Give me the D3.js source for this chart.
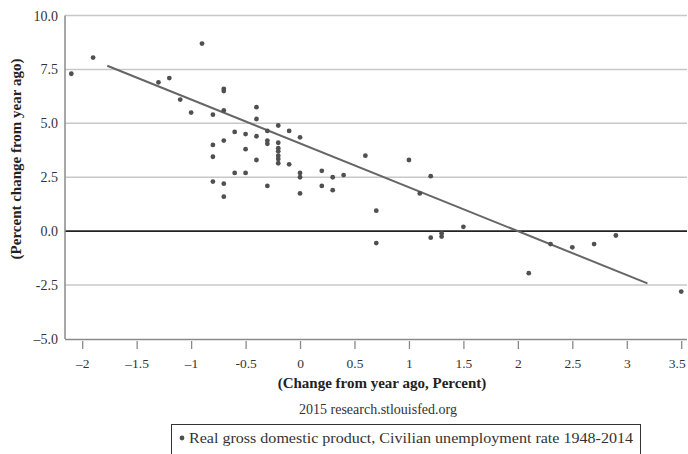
<!DOCTYPE html>
<html>
<head>
<meta charset="utf-8">
<script src="https://cdn.jsdelivr.net/npm/d3@7"></script>
<style>
  body { margin: 0; background: #fff; }
  svg { display: block; font-family: "Liberation Serif", "DejaVu Serif", serif; }
</style>
</head>
<body>
<svg id="main-svg" width="688" height="454"></svg>
<script>
// change in unemployment rate (x) vs real GDP growth (y), 1948-2014
const unempChange = [
  -2.1, -1.9, -1.3, -1.2, -1.1, -1.0, -0.9, -0.8, -0.7, -0.7,
  -0.7, -0.8, -0.8, -0.8, -0.7, -0.7, -0.7, -0.6, -0.6, -0.5,
  -0.5, -0.5, -0.4, -0.4, -0.4, -0.4, -0.3, -0.3, -0.3, -0.3,
  -0.2, -0.2, -0.2, -0.2, -0.2, -0.2, -0.2, -0.1, -0.1, 0.0,
  0.0, 0.0, 0.0, 0.2, 0.2, 0.3, 0.3, 0.4, 0.6, 0.7,
  0.7, 1.0, 1.1, 1.2, 1.2, 1.3, 1.3, 1.5, 2.1, 2.3,
  2.5, 2.7, 2.9, 3.5
];
const gdpChange = [
  7.3, 8.05, 6.9, 7.1, 6.1, 5.5, 8.7, 5.4, 6.5, 6.6,
  5.6, 4.0, 3.45, 2.3, 4.2, 2.2, 1.6, 4.6, 2.7, 4.5,
  3.8, 2.7, 5.75, 5.2, 4.4, 3.3, 4.65, 4.2, 4.05, 2.1,
  4.9, 4.1, 3.85, 3.7, 3.5, 3.35, 3.15, 4.65, 3.1, 4.35,
  2.7, 2.5, 1.75, 2.8, 2.1, 2.5, 1.9, 2.6, 3.5, 0.95,
  -0.55, 3.3, 1.75, 2.55, -0.3, -0.25, -0.1, 0.2, -1.95, -0.6,
  -0.75, -0.6, -0.2, -2.8
];
// fitted line end points as drawn
const trendX = [-1.77, 3.19];
const trendY = [7.67, -2.42];

const xTicks = [-2, -1.5, -1, -0.5, 0, 0.5, 1, 1.5, 2, 2.5, 3, 3.5];
const xTickLabels = ["\u20132", "\u20131.5", "\u20131", "-0.5", "0", "0.5", "1", "1.5", "2", "2.5", "3", "3.5"];
const yTicks = [10, 7.5, 5, 2.5, 0, -2.5, -5];
const yTickLabels = ["10.0", "7.5", "5.0", "2.5", "0.0", "-2.5", "\u20135.0"];

const yTitle = "(Percent change from year ago)";
const xTitle = "(Change from year ago, Percent)";
const sourceText = "2015 research.stlouisfed.org";
const legendText = "Real gross domestic product, Civilian unemployment rate 1948-2014";

const svg = d3.select("#main-svg");

// plot box
const plotLeft = 65, plotRight = 687, plotTop = 15.5, plotBottom = 339;

const x = d3.scaleLinear().domain([-2.158, 3.553]).range([plotLeft, plotRight]);
const y = d3.scaleLinear().domain([-5, 10]).range([plotBottom, plotTop]);

// horizontal grid lines
svg.append("g")
  .selectAll("line")
  .data(yTicks.filter(d => d !== 0 && d !== -5))
  .enter().append("line")
  .attr("x1", plotLeft).attr("x2", plotRight)
  .attr("y1", d => y(d)).attr("y2", d => y(d))
  .attr("stroke", "#c8c8c8")
  .attr("stroke-width", 1.5);

// zero line
svg.append("line")
  .attr("x1", plotLeft).attr("x2", plotRight)
  .attr("y1", y(0)).attr("y2", y(0))
  .attr("stroke", "#222")
  .attr("stroke-width", 1.6);

// y axis line and labels
svg.append("line")
  .attr("x1", plotLeft).attr("x2", plotLeft)
  .attr("y1", plotTop).attr("y2", plotBottom)
  .attr("stroke", "#8a8a8a")
  .attr("stroke-width", 1.5);

svg.append("g")
  .selectAll("text")
  .data(yTicks)
  .enter().append("text")
  .attr("x", plotLeft - 7)
  .attr("y", d => y(d) + 5)
  .attr("text-anchor", "end")
  .attr("font-size", "14px")
  .attr("fill", "#333")
  .text((d, i) => yTickLabels[i]);

// x axis
const xAxis = svg.append("g")
  .attr("transform", `translate(0,${plotBottom})`)
  .call(d3.axisBottom(x).tickValues(xTicks).tickSize(10).tickPadding(9)
    .tickFormat((d, i) => xTickLabels[i]));
xAxis.select(".domain")
  .attr("d", `M${plotLeft},0.5H${plotRight}`)
  .attr("stroke", "#8a8a8a")
  .attr("stroke-width", 1.5);
xAxis.selectAll(".tick line")
  .attr("stroke", "#8a8a8a")
  .attr("stroke-width", 1.3)
  .attr("y1", 2);
xAxis.selectAll(".tick text")
  .attr("font-size", "13.5px")
  .attr("font-family", "Liberation Serif, serif")
  .attr("fill", "#333");
// keep the last label inside the window
xAxis.selectAll(".tick text")
  .filter(d => d === 3.5)
  .attr("text-anchor", "end")
  .attr("dx", "4");

// trend line
svg.append("line")
  .attr("x1", x(trendX[0])).attr("y1", y(trendY[0]))
  .attr("x2", x(trendX[1])).attr("y2", y(trendY[1]))
  .attr("stroke", "#666")
  .attr("stroke-width", 2);

// points
svg.append("g")
  .selectAll("circle")
  .data(unempChange.map((d, i) => ({ x: d, y: gdpChange[i] })))
  .enter().append("circle")
  .attr("cx", d => x(d.x))
  .attr("cy", d => y(d.y))
  .attr("r", 2.4)
  .attr("fill", "#505050");

// axis titles
svg.append("text")
  .attr("transform", "translate(21,159) rotate(-90)")
  .attr("text-anchor", "middle")
  .attr("font-size", "15px")
  .attr("font-weight", "bold")
  .attr("fill", "#222")
  .text(yTitle);

svg.append("text")
  .attr("x", 382)
  .attr("y", 388)
  .attr("text-anchor", "middle")
  .attr("font-size", "15px")
  .attr("font-weight", "bold")
  .attr("fill", "#222")
  .text(xTitle);

svg.append("text")
  .attr("x", 378)
  .attr("y", 414)
  .attr("text-anchor", "middle")
  .attr("font-size", "14px")
  .attr("fill", "#333")
  .text(sourceText);

// legend box
const legend = svg.append("g");
legend.append("rect")
  .attr("x", 171.5).attr("y", 424.5)
  .attr("width", 469).attr("height", 40)
  .attr("fill", "none")
  .attr("stroke", "#333")
  .attr("stroke-width", 1);
legend.append("circle")
  .attr("cx", 182).attr("cy", 438)
  .attr("r", 2.4)
  .attr("fill", "#505050");
legend.append("text")
  .attr("x", 189)
  .attr("y", 443)
  .attr("font-size", "14px")
  .attr("fill", "#333")
  .attr("textLength", 444)
  .attr("lengthAdjust", "spacingAndGlyphs")
  .text(legendText);
</script>
</body>
</html>
